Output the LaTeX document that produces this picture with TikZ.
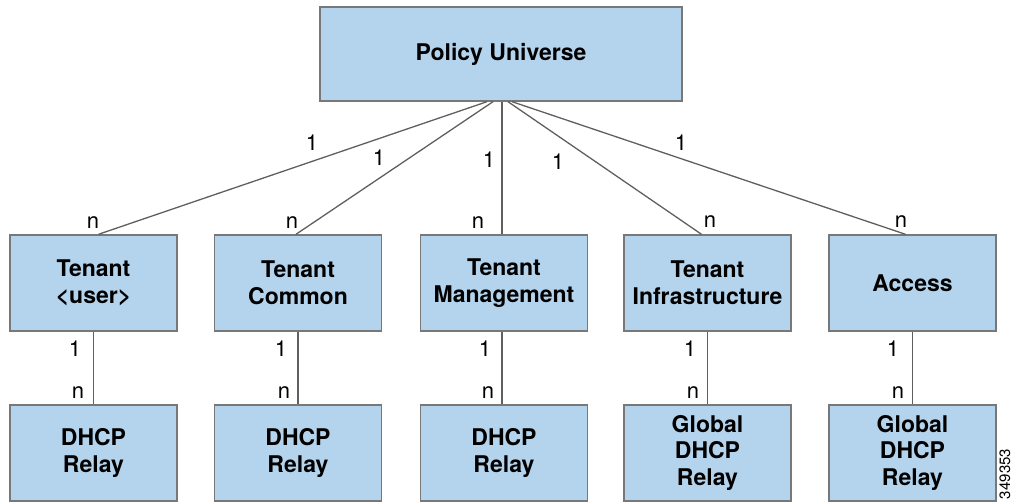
\documentclass[tikz,border=0pt]{standalone}
\usepackage{fontspec}
\setmainfont{TeX Gyre Heros}
\usepackage{tikz}
\usetikzlibrary{positioning}
\definecolor{boxblue}{RGB}{180,211,236}
\definecolor{boxedge}{RGB}{120,120,120}
\definecolor{linkgray}{RGB}{95,95,95}

\begin{document}
\begin{tikzpicture}[x=1pt, y=1pt,
						% Define styles for boxes, links and labels
						box style/.style={rectangle, draw=boxedge, line width=1.4pt, fill=boxblue, minimum width=167pt, minimum height=96pt, inner sep=0pt, align=center, font=\bfseries\fontsize{23}{27}\selectfont},
						link/.style={draw=linkgray, line width=1.3pt},
						card/.style={inner sep=0pt, font=\fontsize{22}{24}\selectfont}
						]
						\useasboundingbox (0,0) rectangle (1013,503);
						
						% Top of the tree
						\node[box style, minimum width=362pt, minimum height=94pt] (PU) at (501, 449) {Policy Universe};
						
						% Second row
						\node[box style] (TU) at (93.5, 220) {Tenant\\<user>};
						\node[box style] (TC) at (298, 220) {Tenant\\Common};
						\node[box style] (TM) at (504, 220) {Tenant\\Management};
						\node[box style] (TI) at (707.5, 220) {Tenant\\Infrastructure};
						\node[box style] (AC) at (912.5, 220) {Access};
						
						% Third row
						\node[box style] (D1) at (93.5, 50) {DHCP\\Relay};
						\node[box style] (D2) at (298, 50) {DHCP\\Relay};
						\node[box style] (D3) at (504, 50) {DHCP\\Relay};
						\node[box style] (G4) at (707.5, 50) {Global\\DHCP\\Relay};
						\node[box style] (G5) at (912.5, 50) {Global\\DHCP\\Relay};
						
						% --- Draw the links ---
						\draw[link] ([xshift=-14pt]PU.south) -- ([xshift=5pt]TU.north);
						\draw[link] ([xshift=-8pt]PU.south) -- ([xshift=-2pt]TC.north);
						\draw[link] ([xshift=1pt]PU.south) -- ([xshift=-2pt]TM.north);
						\draw[link] ([xshift=7pt]PU.south) -- ([xshift=-6pt]TI.north);
						\draw[link] ([xshift=11pt]PU.south) -- ([xshift=-7pt]AC.north);
						
						\draw[link] (TU) -- (D1);
						\draw[link] (TC) -- (D2);
						\draw[link] ([xshift=-2pt]TM.south) -- ([xshift=-2pt]D3.north);
						\draw[link] (TI) -- (G4);
						\draw[link] (AC) -- (G5);
						
						% --- Cardinalities ---
						\node[card] (c1) at (312, 360) {1};
						\node[card] (c2) at (379, 345) {1};
						\node[card] (c3) at (489, 343) {1};
						\node[card] (c4) at (558, 341) {1};
						\node[card] (c5) at (681, 360) {1};
						
						\node[card] (n1) at (93, 280) {n};
						\node[card] (n2) at (292, 280) {n};
						\node[card] (n3) at (478, 280) {n};
						\node[card] (n4) at (710, 281) {n};
						\node[card] (n5) at (901, 281) {n};
						
						\node[card] (d1) at (75, 154) {1};
						\node[card] (d2) at (281, 154) {1};
						\node[card] (d3) at (485, 154) {1};
						\node[card] (d4) at (690, 154) {1};
						\node[card] (d5) at (893, 154) {1};
						
						\node[card] (m1) at (78, 110) {n};
						\node[card] (m2) at (284, 110) {n};
						\node[card] (m3) at (488, 110) {n};
						\node[card] (m4) at (693, 110) {n};
						\node[card] (m5) at (898, 110) {n};
						
						% Figure number
						\node[inner sep=0pt, rotate=90, font=\fontsize{15}{15}\selectfont] (num) at (1005, 29) {349353};
					\end{tikzpicture}
\end{document}
